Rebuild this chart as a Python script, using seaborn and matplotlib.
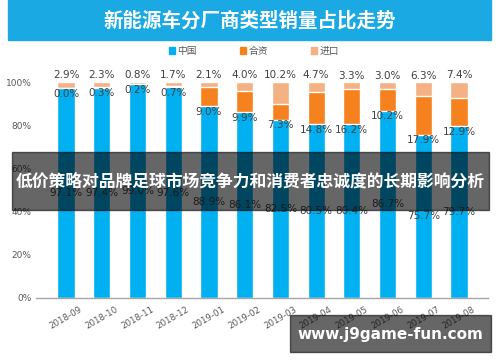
import matplotlib
matplotlib.use("Agg")
import matplotlib.pyplot as plt
from matplotlib.patches import Rectangle, Patch
import seaborn as sns
import pandas as pd
import numpy as np

months = ["2018-09", "2018-10", "2018-11", "2018-12", "2019-01", "2019-02",
          "2019-03", "2019-04", "2019-05", "2019-06", "2019-07", "2019-08"]
china = [97.1, 97.4, 99.0, 97.6, 88.9, 86.1, 82.5, 80.5, 80.4, 86.7, 75.7, 79.7]
joint = [0.0, 0.3, 0.2, 0.7, 9.0, 9.9, 7.3, 14.8, 16.2, 10.2, 17.9, 12.9]
imported = [2.9, 2.3, 0.8, 1.7, 2.1, 4.0, 10.2, 4.7, 3.3, 3.0, 6.3, 7.4]
series_names = ["中国", "合资", "进口"]
y_ticks = [0, 20, 40, 60, 80, 100]

title = "新能源车分厂商类型销量占比走势"
banner = "低价策略对品牌足球市场竞争力和消费者忠诚度的长期影响分析"
watermark = "www.j9game-fun.com"

c_china = "#00b0f0"
c_joint = "#f5821f"
c_imp = "#f4b183"

sns.set_theme(style="white")
plt.rcParams['font.family'] = ['Noto Sans CJK SC', 'DejaVu Sans']

df = pd.DataFrame({"month": months, "china": china, "joint": joint, "imported": imported})
df["cum2"] = df["china"] + df["joint"]
df["cum3"] = df["cum2"] + df["imported"]

fig = plt.figure(figsize=(5, 3.62), dpi=100)
ax = fig.add_axes([0.072, 0.177, 0.904, 0.656])

kw = dict(x="month", width=0.48, edgecolor="white", linewidth=1.0, ax=ax, saturation=1)
sns.barplot(data=df, y="cum3", color=c_imp, **kw)
sns.barplot(data=df, y="cum2", color=c_joint, **kw)
sns.barplot(data=df, y="china", color=c_china, **kw)

ax.set_xlim(-0.84, 11.81)
ax.set_ylim(0, 110)
ax.set_yticks(y_ticks)
ax.set_yticklabels([f"{v}%" for v in y_ticks], fontsize=6.5, color="#595959",
                   family="DejaVu Sans")
ax.set_xlabel("")
ax.set_ylabel("")
ax.set_xticks(range(len(months)))
ax.set_xticklabels(months, rotation=30, ha="center", fontsize=6.2, color="#595959",
                   family="DejaVu Sans")
ax.tick_params(axis="x", length=3, color="#a6a6a6", width=0.8, pad=2)
ax.tick_params(axis="y", length=0, pad=3)
for s in ["top", "right", "left"]:
    ax.spines[s].set_visible(False)
ax.spines["bottom"].set_color("#a6a6a6")
ax.spines["bottom"].set_linewidth(1.0)

lab = dict(fontsize=7.5, color="#404040", family="DejaVu Sans", ha="center")
for i in range(len(months)):
    tot = china[i] + joint[i] + imported[i]
    ax.text(i, tot + 0.8, f"{imported[i]:.1f}%", va="bottom", **lab)
    ax.text(i, china[i] - 0.3, f"{joint[i]:.1f}%", va="top", **lab)
    ax.text(i, china[i] / 2, f"{china[i]:.1f}%", va="center", **lab)

# title bar
fig.patches.append(Rectangle((8 / 500, 1 - 40 / 362), 483 / 500, 40 / 362,
                             transform=fig.transFigure, color="#1aa9e2", zorder=0))
fig.text(0.5, 1 - 21 / 362, title, color="white", fontsize=14, fontweight="bold",
         ha="center", va="center")

handles = [Patch(color=c) for c in (c_china, c_joint, c_imp)]
leg = fig.legend(handles, series_names, loc="center", bbox_to_anchor=(0.508, 1 - 51 / 362),
                 ncol=3, frameon=False, fontsize=7, handlelength=0.6, handleheight=0.6,
                 handletextpad=0.3, columnspacing=4.4, labelcolor="#595959")

# overlay banner
fig.patches.append(Rectangle((12 / 500, 1 - 210 / 362), 477 / 500, 58 / 362,
                             transform=fig.transFigure, color="black", alpha=0.6, zorder=10))
fig.text(250 / 500, 1 - 182 / 362, banner, color="white", fontsize=12.1, fontweight="bold",
         ha="center", va="center", zorder=11)

# watermark
fig.patches.append(Rectangle((290 / 500, 1 - 352 / 362), 201 / 500, 37 / 362,
                             transform=fig.transFigure, color="black", alpha=0.6, zorder=10))
fig.text(390 / 500, 1 - 334 / 362, watermark, color="white", fontsize=11, fontweight="bold",
         ha="center", va="center", zorder=11, family="DejaVu Sans")

fig.savefig("out.png", dpi=100)
